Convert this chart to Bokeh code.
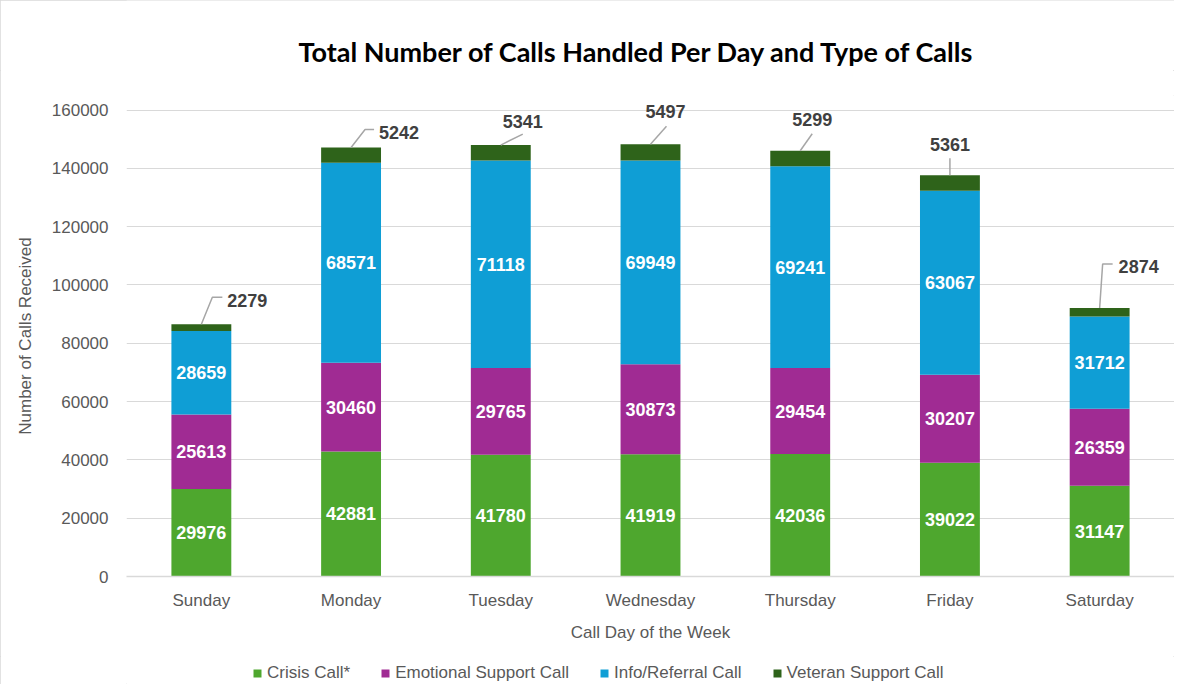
import numpy as np
from bokeh.plotting import figure
from bokeh.layouts import column
from bokeh.models import ColumnDataSource, Range1d, FixedTicker, Legend, LegendItem, NumeralTickFormatter
from bokeh.core.properties import value
from bokeh.embed import file_html
from bokeh.resources import INLINE

# ---------------- data ----------------
days = ["Sunday", "Monday", "Tuesday", "Wednesday", "Thursday", "Friday", "Saturday"]
crisis = [29976, 42881, 41780, 41919, 42036, 39022, 31147]
emotional = [25613, 30460, 29765, 30873, 29454, 30207, 26359]
info = [28659, 68571, 71118, 69949, 69241, 63067, 31712]
veteran = [2279, 5242, 5341, 5497, 5299, 5361, 2874]
series_names = ["Crisis Call*", "Emotional Support Call", "Info/Referral Call", "Veteran Support Call"]
colors = ["#4EA72E", "#A02B93", "#0F9ED5", "#2E631A"]
y_ticks = [0, 20000, 40000, 60000, 80000, 100000, 120000, 140000, 160000]
title_text = "Total Number of Calls Handled Per Day and Type of Calls"

# callout placement (screen px relative to the top-centre of each bar)
lab_dx = [46, 48, 22, 15, 12, 0, 39]
lab_dy = [24, 15, 24, 33, 31, 31, 42]
elb_dx = [11, 14, 22, 16, 12, 0, 3]
elb_dy = [27, 18, 11, 18, 17, 17, 44]
end_dx = [21, 23, 22, 16, 12, 0, 13]

# ---------------- layout ----------------
W = 1174
HT = 70            # title strip
HM = 586           # main chart
HL = 28            # legend strip
ML, MR, MT, MB = 126, 0, 25, 80
Y_END = 165000
px_per_unit = (W - ML - MR) / len(days)
data_per_px = Y_END / (HM - MT - MB)

# ---------------- title strip (frame aligned with main chart) ----------------
t = figure(width=W, height=HT, x_range=Range1d(ML, W), y_range=Range1d(0, HT),
           output_backend="svg", toolbar_location=None, x_axis_type=None, y_axis_type=None,
           min_border_left=ML, min_border_right=MR, min_border_top=0, min_border_bottom=0)
t.outline_line_color = None
t.grid.visible = False
t.text(x=[298], y=[HT - 51], text=[title_text], text_align="left", text_baseline="middle",
       text_color="#000000", text_font=value("Lato"), text_font_style="bold",
       text_font_size="27px")

# ---------------- main chart ----------------
xs = np.arange(len(days)) + 0.5
stack = np.array([crisis, emotional, info, veteran], dtype=float)
cum = np.cumsum(stack, axis=0)
bottoms = cum - stack
totals = cum[-1]

src = ColumnDataSource(dict(x=xs, crisis=crisis, emotional=emotional, info=info, veteran=veteran))

p = figure(width=W, height=HM, x_range=Range1d(0, len(days)), y_range=Range1d(0, Y_END),
           output_backend="svg", toolbar_location=None,
           min_border_left=ML, min_border_right=MR, min_border_top=MT, min_border_bottom=MB)
p.outline_line_color = None
p.background_fill_color = "white"
p.border_fill_color = "white"

p.xaxis.ticker = FixedTicker(ticks=list(xs))
p.xaxis.major_label_overrides = {float(x): d for x, d in zip(xs, days)}
p.xaxis.axis_label = "Call Day of the Week"
p.yaxis.axis_label = "Number of Calls Received"
p.yaxis.ticker = FixedTicker(ticks=y_ticks)
p.yaxis.formatter = NumeralTickFormatter(format="0")
for ax in (p.xaxis[0], p.yaxis[0]):
    ax.major_tick_line_color = None
    ax.minor_tick_line_color = None
    ax.major_label_text_font = "Liberation Sans"
    ax.major_label_text_font_size = "17px"
    ax.major_label_text_color = "#595959"
    ax.axis_label_text_font = "Liberation Sans"
    ax.axis_label_text_font_size = "17px"
    ax.axis_label_text_font_style = "normal"
    ax.axis_label_text_color = "#595959"
p.xaxis.axis_line_color = "#D9D9D9"
p.xaxis.axis_line_width = 1.5
p.yaxis.axis_line_color = None
p.xaxis.major_label_standoff = 8
p.xaxis.axis_label_standoff = 10
p.yaxis.major_label_standoff = 12
p.yaxis.axis_label_standoff = 14
p.xgrid.grid_line_color = None
p.ygrid.ticker = FixedTicker(ticks=y_ticks)
p.ygrid.grid_line_color = "#D9D9D9"
p.ygrid.grid_line_width = 1.2

rs = p.vbar_stack(["crisis", "emotional", "info", "veteran"], x="x", width=0.4,
                  color=colors, line_color=None, source=src)

lx, ly, lt = [], [], []
for k in range(3):
    for i in range(len(days)):
        lx.append(xs[i])
        ly.append(bottoms[k, i] + stack[k, i] / 2)
        lt.append(str(int(stack[k, i])))
p.text(x=lx, y=ly, text=lt, text_align="center", text_baseline="middle",
       text_color="white", text_font=value("Liberation Sans"), text_font_style="bold",
       text_font_size="18px")

cx, cy, ct = [], [], []
mx, my = [], []
for i in range(len(days)):
    x0, y0 = xs[i], totals[i]
    cx.append(x0 + lab_dx[i] / px_per_unit)
    cy.append(y0 + lab_dy[i] * data_per_px)
    ct.append(str(veteran[i]))
    mx.append([x0, x0 + elb_dx[i] / px_per_unit, x0 + end_dx[i] / px_per_unit])
    my.append([y0, y0 + elb_dy[i] * data_per_px, y0 + elb_dy[i] * data_per_px])
p.multi_line(xs=mx, ys=my, line_color="#A6A6A6", line_width=1.5)
p.text(x=cx, y=cy, text=ct, text_align="center", text_baseline="middle",
       text_color="#404040", text_font=value("Liberation Sans"), text_font_style="bold",
       text_font_size="18px")

# ---------------- legend strip ----------------
lg = figure(width=W, height=HL, x_range=Range1d(0, 1), y_range=Range1d(0, 1),
            output_backend="svg", toolbar_location=None, x_axis_type=None, y_axis_type=None,
            min_border_left=ML, min_border_right=MR, min_border_top=0, min_border_bottom=0)
lg.outline_line_color = None
lg.grid.visible = False
# zero-height proxy bars, used only for the legend swatches
proxies = [lg.vbar(x=[0.5], top=[0], bottom=[0], width=0.0, color=c, line_color=None)
           for c in colors]
legend = Legend(items=[LegendItem(label=n, renderers=[r]) for n, r in zip(series_names, proxies)],
                orientation="horizontal", location=(126, 1))
legend.border_line_color = None
legend.background_fill_alpha = 0
legend.label_text_font = "Liberation Sans"
legend.label_text_font_size = "17px"
legend.label_text_color = "#595959"
legend.glyph_width = 10
legend.glyph_height = 10
legend.label_standoff = 5
legend.spacing = 30
legend.padding = 0
legend.margin = 0
lg.add_layout(legend)

layout = column(t, p, lg, spacing=0)
layout.styles = {"outline": "1px solid #D9D9D9", "outline-offset": "-1px"}
open("out.html", "w").write(file_html(layout, INLINE))
